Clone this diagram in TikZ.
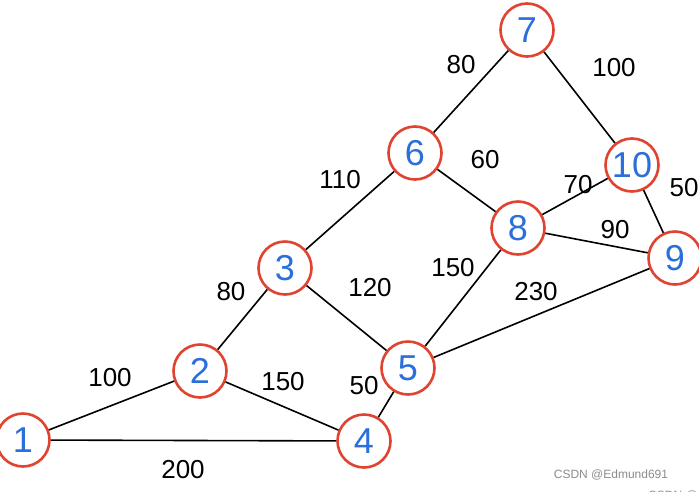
\documentclass[tikz,border=0pt]{standalone}
\usepackage{fontspec}
\setmainfont{Liberation Sans}
\begin{document}
\begin{tikzpicture}[x=1pt,y=-1pt,
  vtx/.style={circle,draw=vred,line width=2.6pt,minimum size=53pt,inner sep=0pt,
    text=vblue,font=\fontsize{36}{36}\selectfont},
  edge/.style={line width=1.6pt,black},
  wlab/.style={font=\fontsize{26}{26}\selectfont,inner sep=0pt},
  wm/.style={font=\fontsize{12}{12}\selectfont,text=black!45,inner sep=0pt}]
\definecolor{vred}{HTML}{E0432F}
\definecolor{vblue}{HTML}{2B6FDA}
\useasboundingbox (0,0) rectangle (699,491);
\fill[white] (0,0) rectangle (699,491);
\node[vtx] (n1) at (23,440) {1};
\node[vtx] (n2) at (200,371) {2};
\node[vtx] (n3) at (285,268) {3};
\node[vtx] (n4) at (364,441) {4};
\node[vtx] (n5) at (408,368) {5};
\node[vtx] (n6) at (415,153) {6};
\node[vtx] (n7) at (527,30) {7};
\node[vtx] (n8) at (518,228) {8};
\node[vtx] (n9) at (675,258) {9};
\node[vtx] (n10) at (632,165) {10};
\draw[edge] (n1) -- (n2);
\draw[edge] (n1) -- (n4);
\draw[edge] (n2) -- (n3);
\draw[edge] (n2) -- (n4);
\draw[edge] (n4) -- (n5);
\draw[edge] (n3) -- (n5);
\draw[edge] (n3) -- (n6);
\draw[edge] (n6) -- (n7);
\draw[edge] (n6) -- (n8);
\draw[edge] (n7) -- (n10);
\draw[edge] (n8) -- (n10);
\draw[edge] (n8) -- (n9);
\draw[edge] (n10) -- (n9);
\draw[edge] (n5) -- (n8);
\draw[edge] (n5) -- (n9);
\node[wlab] (l12) at (110,378) {100};
\node[wlab] (l23) at (231,292) {80};
\node[wlab] (l24) at (283,382) {150};
\node[wlab] (l14) at (183,470) {200};
\node[wlab] (l45) at (364,386) {50};
\node[wlab] (l35) at (370,288) {120};
\node[wlab] (l36) at (340,180) {110};
\node[wlab] (l67) at (461,65) {80};
\node[wlab] (l68) at (485,160) {60};
\node[wlab] (l58) at (453,268) {150};
\node[wlab] (l59) at (536,292) {230};
\node[wlab] (l810) at (578,185) {70};
\node[wlab] (l89) at (615,230) {90};
\node[wlab] (l710) at (614,68) {100};
\node[wlab] (l109) at (684,188) {50};
\node[wm] (wm1) at (611,475) {CSDN @Edmund691};
\node[wm,anchor=west] (wm2) at (648,496) {CSDN @};
\end{tikzpicture}
\end{document}
